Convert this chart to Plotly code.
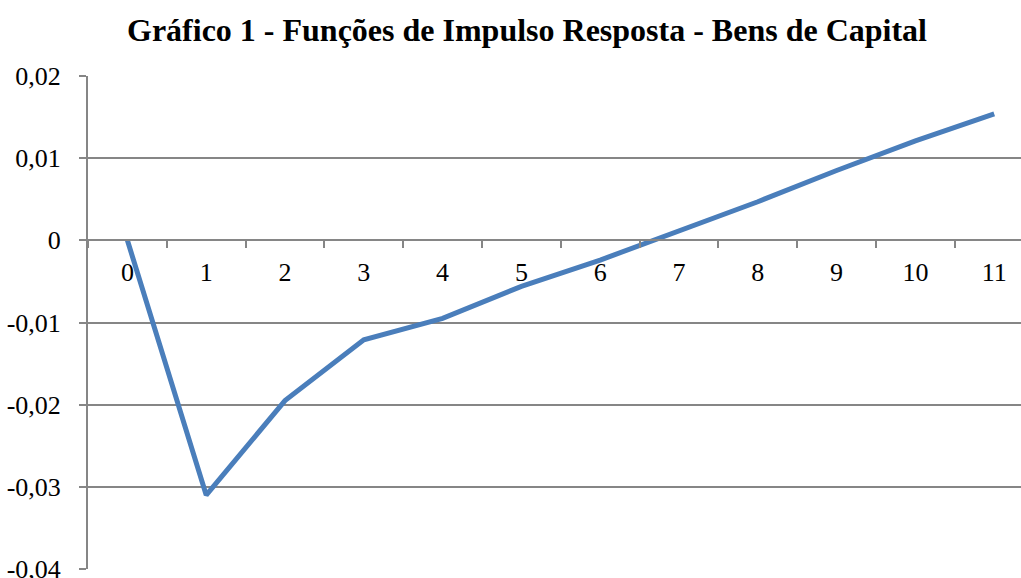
import plotly.graph_objects as go

periods = ["0", "1", "2", "3", "4", "5", "6", "7", "8", "9", "10", "11"]
response = [0.0, -0.0310, -0.0195, -0.0121, -0.0095, -0.0056, -0.0024, 0.0011, 0.0047, 0.0085, 0.0121, 0.0154]
y_ticks = [-0.04, -0.03, -0.02, -0.01, 0.0, 0.01, 0.02]
y_tick_labels = ["-0,04", "-0,03", "-0,02", "-0,01", "0", "0,01", "0,02"]
title_text = "Gráfico 1 - Funções de Impulso Resposta - Bens de Capital"

W, H = 1021, 578
ml, mr, mt, mb = 88, 0, 76, 9

fig = go.Figure()
fig.add_trace(go.Scatter(
    x=periods, y=response, mode="lines",
    line=dict(color="#4a7ebb", width=5),
    showlegend=False, hoverinfo="skip",
))

font_family = "Liberation Serif, Times New Roman, serif"

fig.update_layout(
    width=W, height=H,
    margin=dict(l=ml, r=mr, t=mt, b=mb, pad=0, autoexpand=False),
    paper_bgcolor="white", plot_bgcolor="white",
    font=dict(family=font_family, size=26, color="black"),
    title=dict(
        text="<b>" + title_text + "</b>",
        font=dict(family=font_family, size=32, color="black"),
        x=527 / W, xanchor="center", xref="container",
        y=1 - 30 / H, yanchor="middle", yref="container",
        automargin=False,
    ),
    xaxis=dict(
        type="category",
        range=[-0.5, 11.34],
        anchor="free", position=2 / 3,
        automargin=False,
        showgrid=False, zeroline=False,
        showline=True, linecolor="#868686", linewidth=2,
        ticks="outside", ticklen=7, tickwidth=2, tickcolor="#868686",
        tickson="boundaries",
        ticklabelstandoff=8,
        tickfont=dict(size=26, family=font_family, color="black"),
    ),
    yaxis=dict(
        range=[-0.04, 0.02],
        automargin=False,
        tickvals=y_ticks, ticktext=y_tick_labels,
        ticklabeloverflow="allow",
        showgrid=True, gridcolor="#868686", gridwidth=2,
        zeroline=False,
        showline=True, linecolor="#868686", linewidth=2,
        ticks="outside", ticklen=7, tickwidth=2, tickcolor="#868686",
        ticklabelstandoff=13,
        tickfont=dict(size=26, family=font_family, color="black"),
    ),
)

fig.write_html(
    "out.html",
    config={"displayModeBar": False},
    post_script="document.body.style.margin='0';document.body.style.overflow='hidden';",
)
